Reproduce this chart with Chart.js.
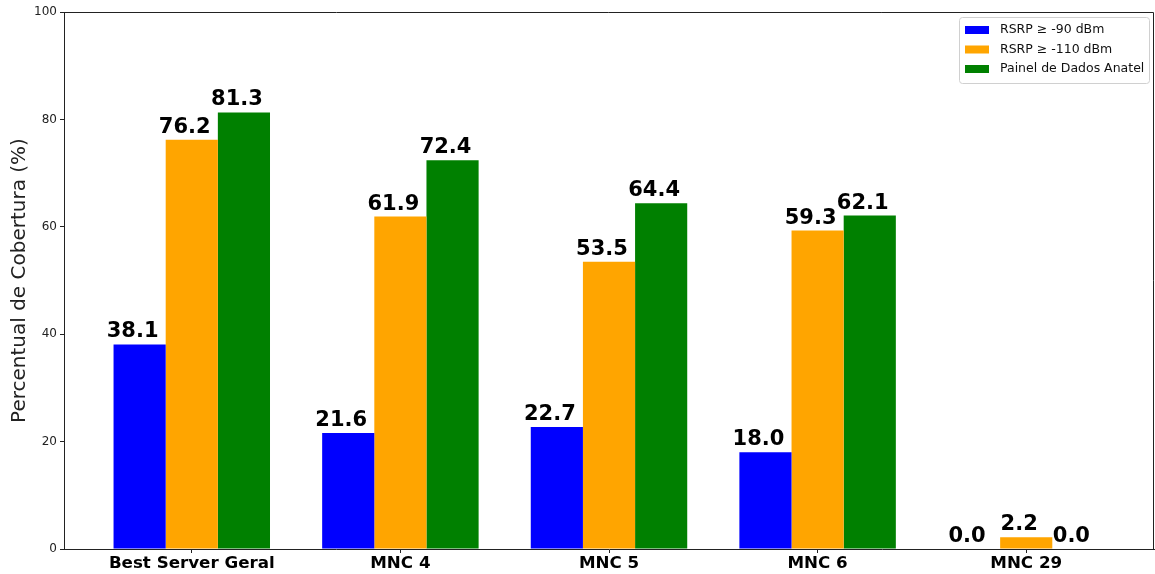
<!DOCTYPE html>
<html>
<head>
<meta charset="utf-8">
<script src="https://cdn.jsdelivr.net/npm/chart.js@4"></script>
<style>
  html, body { margin: 0; padding: 0; background: #fff; }
  #wrap { width: 1155px; height: 574px; }
</style>
</head>
<body>
<div id="wrap"><canvas id="chart" width="1155" height="574"></canvas></div>
<script>
const categories = ["Best Server Geral", "MNC 4", "MNC 5", "MNC 6", "MNC 29"];
const rsrp90 = [38.1, 21.6, 22.7, 18.0, 0.0];
const rsrp110 = [76.2, 61.9, 53.5, 59.3, 2.2];
const anatel = [81.3, 72.4, 64.4, 62.1, 0.0];
const seriesLabels = ["RSRP \u2265 -90 dBm", "RSRP \u2265 -110 dBm", "Painel de Dados Anatel"];
const seriesColors = ["#0000ff", "#ffa500", "#008000"];
const yTicks = [0, 20, 40, 60, 80, 100];

const FONT = "'DejaVu Sans', 'Liberation Sans', sans-serif";
const INK = "#222";

function toPoints(values) {
  return values.map((v, i) => ({ x: i, y: v }));
}

// value labels above each bar (the original sits them a little left of centre)
const valueLabels = {
  id: "valueLabels",
  afterDatasetsDraw(chart) {
    const ctx = chart.ctx;
    ctx.save();
    ctx.font = "bold 21px " + FONT;
    ctx.fillStyle = "#000";
    ctx.textAlign = "center";
    ctx.textBaseline = "alphabetic";
    chart.data.datasets.forEach((ds, di) => {
      const meta = chart.getDatasetMeta(di);
      meta.data.forEach((bar, i) => {
        ctx.fillText(ds.data[i].y.toFixed(1), bar.x - 7, bar.y - 7);
      });
    });
    ctx.restore();
  },
};

// top and right spines
const frame = {
  id: "frame",
  afterDraw(chart) {
    const { ctx, chartArea: a } = chart;
    ctx.save();
    ctx.strokeStyle = INK;
    ctx.lineWidth = 1;
    ctx.beginPath();
    ctx.moveTo(a.left, a.top + 0.5);
    ctx.lineTo(a.right - 0.5, a.top + 0.5);
    ctx.lineTo(a.right - 0.5, a.bottom);
    ctx.stroke();
    ctx.restore();
  },
};

// matplotlib-like legend inside the plot, upper right
const boxLegend = {
  id: "boxLegend",
  afterDraw(chart) {
    const { ctx, chartArea: a } = chart;
    const w = 190, h = 66;
    const x = a.right - 5 - w, y = a.top + 5;
    ctx.save();
    ctx.fillStyle = "rgba(255,255,255,0.85)";
    ctx.strokeStyle = "#d0d0d0";
    ctx.lineWidth = 1;
    ctx.beginPath();
    ctx.roundRect(x + 0.5, y + 0.5, w, h, 3);
    ctx.fill();
    ctx.stroke();
    ctx.font = "12.5px " + FONT;
    ctx.textBaseline = "middle";
    chart.data.datasets.forEach((ds, i) => {
      const cy = y + 13 + i * 19.5;
      ctx.fillStyle = ds.backgroundColor;
      ctx.fillRect(x + 6, cy - 4, 24, 8);
      ctx.fillStyle = "#111";
      ctx.fillText(ds.label, x + 41, cy);
    });
    ctx.restore();
  },
};

new Chart(document.getElementById("chart"), {
  type: "bar",
  data: {
    datasets: [
      { label: seriesLabels[0], data: toPoints(rsrp90), backgroundColor: seriesColors[0] },
      { label: seriesLabels[1], data: toPoints(rsrp110), backgroundColor: seriesColors[1] },
      { label: seriesLabels[2], data: toPoints(anatel), backgroundColor: seriesColors[2] },
    ],
  },
  options: {
    responsive: false,
    animation: false,
    layout: { padding: { top: 12, right: 1, left: 0, bottom: 0 } },
    datasets: { bar: { categoryPercentage: 0.75, barPercentage: 1.0 } },
    plugins: { legend: { display: false }, tooltip: { enabled: false } },
    scales: {
      x: {
        type: "linear",
        offset: false,
        min: -0.6125,
        max: categories.length - 1 + 0.6125,
        afterBuildTicks: (scale) => {
          scale.ticks = categories.map((_, i) => ({ value: i }));
        },
        afterFit: (scale) => { scale.height = 25; },
        grid: { offset: false, drawOnChartArea: false, drawTicks: true, tickLength: 4, tickColor: INK },
        border: { color: INK, width: 1 },
        ticks: {
          autoSkip: false,
          maxRotation: 0,
          padding: 1,
          color: "#000",
          font: { family: FONT, size: 16.7, weight: "bold" },
          callback: (v) => categories[v],
        },
      },
      y: {
        min: 0,
        max: 100,
        afterBuildTicks: (scale) => {
          scale.ticks = yTicks.map((v) => ({ value: v }));
        },
        afterFit: (scale) => { scale.width = 64; },
        grid: { drawOnChartArea: false, drawTicks: true, tickLength: 4, tickColor: INK },
        border: { color: INK, width: 1 },
        ticks: {
          padding: 3,
          color: INK,
          font: { family: FONT, size: 12 },
        },
        title: {
          display: true,
          text: "Percentual de Cobertura (%)",
          color: INK,
          padding: { top: 8, bottom: 0 },
          font: { family: FONT, size: 20 },
        },
      },
    },
  },
  plugins: [valueLabels, frame, boxLegend],
});
</script>
</body>
</html>
